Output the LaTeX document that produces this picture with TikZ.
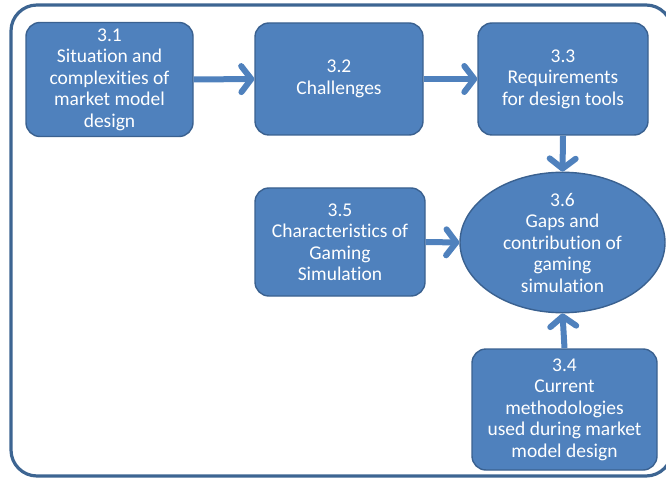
\documentclass[tikz,border=0pt]{standalone}
\usepackage{fontspec}
\setmainfont[Ligatures=NoCommon]{Carlito}
\usetikzlibrary{arrows.meta,shapes.geometric}
\definecolor{boxfill}{HTML}{4F81BD}
\definecolor{boxline}{HTML}{3A6190}
\definecolor{framecol}{HTML}{3D6592}
\definecolor{arrowcol}{HTML}{4F81BD}
\tikzset{
  stagebox/.style={rectangle, rounded corners=14pt, fill=boxfill, draw=boxline,
    line width=1.4pt, text=white, align=center, inner sep=0pt,
    font=\fontsize{19.5}{21.5}\selectfont},
  gapnode/.style={ellipse, fill=boxfill, draw=boxline, line width=1.4pt,
    text=white, align=center, inner sep=0pt,
    font=\fontsize{19.5}{21.5}\selectfont},
  flow/.style={draw=arrowcol, line width=6pt,
    -{Straight Barb[length=10pt,width=26pt,round]}},
}
\begin{document}
\begin{tikzpicture}[x=1pt,y=-1pt]
  \useasboundingbox (0,0) rectangle (666,478);
  \clip (0,0) rectangle (666,478);
  % outer frame
  \draw[framecol, line width=3.2pt, rounded corners=26pt] (11,5) rectangle (672,476);

  % stages
  \node[stagebox, minimum width=167pt, minimum height=114pt] (n31) at (109.5,79.5)
    {3.1\\Situation and\\complexities of\\market model\\design};
  \node[stagebox, minimum width=168pt, minimum height=112pt] (n32) at (339,79)
    {3.2\\Challenges};
  \node[stagebox, minimum width=170pt, minimum height=112pt] (n33) at (563,79)
    {3.3\\Requirements\\for design tools};
  \node[stagebox, minimum width=170pt, minimum height=108pt] (n35) at (340,242)
    {3.5\\Characteristics of\\Gaming\\Simulation};
  \node[stagebox, minimum width=185pt, minimum height=121pt] (n34) at (564.5,409.5)
    {3.4\\Current\\methodologies\\used during market\\model design};
  \node[gapnode, minimum width=205pt, minimum height=139pt] (n36) at (562.5,242.5)
    {3.6\\Gaps and\\contribution of\\gaming\\simulation};

  % connectors
  \draw[flow] (n31.east) -- (n32.west);
  \draw[flow] (n32.east) -- (n33.west);
  \draw[flow] (n33.south) -- (n36.north);
  \draw[flow] (n35.east) -- (n36.west);
  \draw[flow] (n34.north) -- (n36.south);
\end{tikzpicture}
\end{document}
